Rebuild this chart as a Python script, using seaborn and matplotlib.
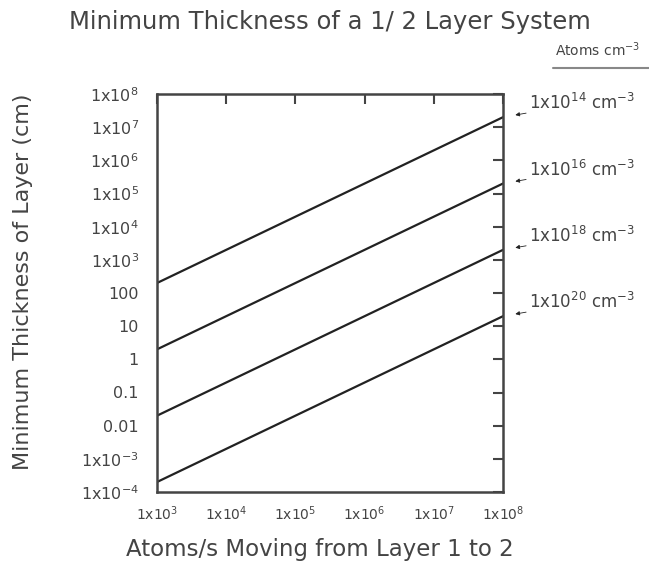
import numpy as np
import pandas as pd
import matplotlib
matplotlib.use("Agg")
import matplotlib.pyplot as plt
import seaborn as sns

# Data
x_values = [1e3, 1e8]
series_labels = ["1x10$^{14}$ cm$^{-3}$", "1x10$^{16}$ cm$^{-3}$",
                 "1x10$^{18}$ cm$^{-3}$", "1x10$^{20}$ cm$^{-3}$"]
y_start = [2e2, 2.0, 2e-2, 2e-4]
y_end = [2e7, 2e5, 2e3, 2e1]

x_ticks = [1e3, 1e4, 1e5, 1e6, 1e7, 1e8]
x_tick_labels = ["1x10$^{3}$", "1x10$^{4}$", "1x10$^{5}$", "1x10$^{6}$", "1x10$^{7}$", "1x10$^{8}$"]
y_ticks = [1e-4, 1e-3, 1e-2, 1e-1, 1, 10, 100, 1e3, 1e4, 1e5, 1e6, 1e7, 1e8]
y_tick_labels = ["1x10$^{-4}$", "1x10$^{-3}$", "0.01", "0.1", "1", "10", "100",
                 "1x10$^{3}$", "1x10$^{4}$", "1x10$^{5}$", "1x10$^{6}$", "1x10$^{7}$", "1x10$^{8}$"]

rows = []
for lab, ys, ye in zip(series_labels, y_start, y_end):
    rows.append({"x": x_values[0], "y": ys, "series": lab})
    rows.append({"x": x_values[1], "y": ye, "series": lab})
df = pd.DataFrame(rows)

sns.set_style("white")
plt.rcParams['font.family'] = ['DejaVu Sans']
plt.rcParams['mathtext.fontset'] = 'dejavusans'
grey = "#444444"

fig = plt.figure(figsize=(6.49, 5.77), dpi=100)
ax = fig.add_axes([157/649, 1-492/577, (503-157)/649, (492-94)/577])

sns.lineplot(data=df, x="x", y="y", units="series", estimator=None,
             color="#222222", linewidth=1.6, ax=ax, legend=False)
ax.set_xscale("log")
ax.set_yscale("log")
ax.set_xlim(1e3, 1e8)
ax.set_ylim(1e-4, 1e8)
ax.set_xticks(x_ticks)
ax.set_xticklabels(x_tick_labels, fontsize=10, color=grey)
ax.set_yticks(y_ticks)
ax.set_yticklabels(y_tick_labels, fontsize=11.5, color=grey)
ax.minorticks_off()
ax.tick_params(axis="both", direction="in", length=7, width=1.5, color=grey,
               top=True, right=True)
ax.tick_params(axis="x", pad=9)
ax.tick_params(axis="y", pad=13)
for s in ax.spines.values():
    s.set_color(grey)
    s.set_linewidth(1.8)

ax.set_xlabel("Atoms/s Moving from Layer 1 to 2", fontsize=16.5, color=grey)
ax.xaxis.set_label_coords((320-157)/346, -(538-492)/398)
ax.set_ylabel("Minimum Thickness of Layer (cm)", fontsize=16, color=grey)
ax.yaxis.set_label_coords(-(157-33)/346, (492-282)/398)

fig.text(330/649, 1-22/577, "Minimum Thickness of a 1/ 2 Layer System", ha="center",
         va="center", fontsize=17.5, color=grey)
fig.text(598/649, 1-50/577, "Atoms cm$^{-3}$", ha="center", va="center",
         fontsize=10, color=grey)
fig.add_artist(plt.Line2D([553/649, 1.0], [1-68/577, 1-68/577], color="#888888", lw=1.5))

for lab, ye in zip(series_labels, y_end):
    ax.annotate(lab, xy=(1e8, ye), xycoords="data",
                xytext=(19, 10), textcoords="offset points",
                fontsize=12, color=grey, va="center", ha="left",
                arrowprops=dict(arrowstyle="-|>", color="#222222", lw=0.6,
                                mutation_scale=6, shrinkA=0, shrinkB=9),
                annotation_clip=False)

fig.savefig("out.png", dpi=100, facecolor="white")
